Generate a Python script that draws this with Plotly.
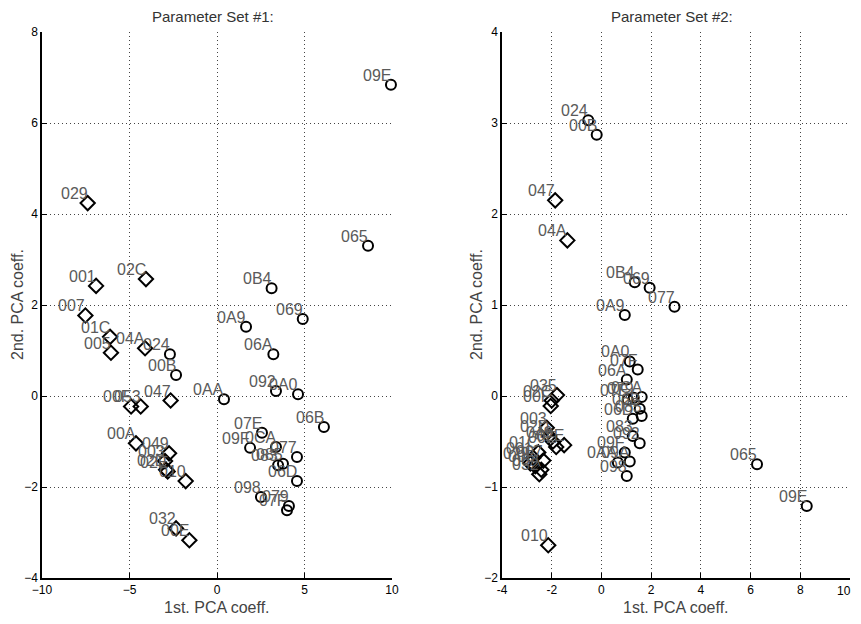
import plotly.graph_objects as go

# ---------------- Parameter Set #1 ----------------
p1_diamond_labels = ["029", "001", "02C", "007", "01C", "005", "04A", "047", "00F", "053",
                     "00A", "049", "003", "02D", "02E", "010", "032", "00E"]
p1_diamond_x = [-7.39, -6.91, -4.06, -7.52, -6.11, -6.06, -4.11, -2.65, -4.91, -4.36,
                -4.63, -2.74, -2.97, -2.91, -2.82, -1.79, -2.34, -1.58]
p1_diamond_y = [4.24, 2.42, 2.57, 1.77, 1.30, 0.95, 1.05, -0.10, -0.23, -0.23,
                -1.04, -1.26, -1.43, -1.62, -1.66, -1.87, -2.91, -3.17]

p1_circle_labels = ["09E", "065", "0B4", "069", "0A9", "06A", "024", "00B", "0AA", "092",
                    "0A0", "06B", "07E", "09F", "0CA", "077", "083", "085", "06D", "098",
                    "079", "07F"]
p1_circle_x = [9.94, 8.63, 3.12, 4.90, 1.66, 3.22, -2.69, -2.34, 0.40, 3.37,
               4.63, 6.11, 2.57, 1.89, 3.37, 4.57, 3.49, 3.77, 4.57, 2.51,
               4.11, 4.00]
p1_circle_y = [6.84, 3.30, 2.37, 1.69, 1.52, 0.92, 0.92, 0.46, -0.07, 0.11,
               0.04, -0.68, -0.81, -1.14, -1.12, -1.34, -1.52, -1.49, -1.87, -2.22,
               -2.42, -2.51]

# ---------------- Parameter Set #2 ----------------
p2_diamond_labels = ["047", "04A", "010", "035", "02C", "00F", "003", "02D", "049", "00E",
                     "02E", "01C", "001", "007", "005", "00A", "032", "029"]
p2_diamond_x = [-1.86, -1.37, -2.14, -1.79, -2.00, -2.04, -2.20, -2.10, -1.95, -1.82,
                -1.50, -2.54, -2.74, -2.34, -2.66, -2.42, -2.50, -2.86]
p2_diamond_y = [2.15, 1.71, -1.64, 0.01, -0.05, -0.11, -0.35, -0.44, -0.50, -0.56,
                -0.54, -0.62, -0.68, -0.71, -0.77, -0.81, -0.86, -0.74]

p2_circle_labels = ["024", "00B", "0B4", "069", "077", "0A9", "065", "09E", "0A0", "07F",
                    "06A", "07E", "079", "0CA", "06B", "085", "06D", "083", "092", "09F",
                    "0AA", "09A", "098"]
p2_circle_x = [-0.53, -0.19, 1.34, 1.94, 2.94, 0.94, 6.26, 8.26, 1.14, 1.46,
               1.02, 1.06, 1.30, 1.62, 1.54, 1.62, 1.26, 1.26, 1.54, 0.94,
               0.66, 1.14, 1.02]
p2_circle_y = [3.03, 2.87, 1.25, 1.19, 0.98, 0.89, -0.75, -1.21, 0.38, 0.29,
               0.18, -0.04, -0.02, -0.01, -0.14, -0.22, -0.25, -0.44, -0.52, -0.62,
               -0.73, -0.72, -0.88]

p1_xticks = [-10, -5, 0, 5, 10]
p1_yticks = [-4, -2, 0, 2, 4, 6, 8]
p2_xticks = [-4, -2, 0, 2, 4, 6, 8, 10]
p2_yticks = [-2, -1, 0, 1, 2, 3, 4]

titles = ["Parameter Set #1:", "Parameter Set #2:"]
x_title = "1st. PCA coeff."
y_title = "2nd. PCA coeff."

FONT = "Arial, Liberation Sans, Helvetica, sans-serif"
LABEL_COLOR = "#5a5a5a"

# The page body has an 8px margin, so the figure is drawn offset by 8px.
OFF = 8
W, H = 861 - 2 * OFF, 624 - 2 * OFF


def px_x(px):
    return (px - OFF) / W


def px_y(py):
    return (H - (py - OFF)) / H


left_dom = [px_x(42), px_x(392)]
right_dom = [px_x(502), px_x(850)]
y_dom = [px_y(578), px_y(32)]

fig = go.Figure()

panels = [
    dict(xa="x", ya="y", dx=p1_diamond_x, dy=p1_diamond_y, dl=p1_diamond_labels,
         cx=p1_circle_x, cy=p1_circle_y, cl=p1_circle_labels),
    dict(xa="x2", ya="y2", dx=p2_diamond_x, dy=p2_diamond_y, dl=p2_diamond_labels,
         cx=p2_circle_x, cy=p2_circle_y, cl=p2_circle_labels),
]

annotations = []
for p in panels:
    fig.add_trace(go.Scatter(x=p["dx"], y=p["dy"], mode="markers", xaxis=p["xa"], yaxis=p["ya"],
                             cliponaxis=False,
                             marker=dict(symbol="diamond-open", size=11, color="black",
                                         line=dict(width=2, color="black")),
                             showlegend=False, hoverinfo="skip"))
    fig.add_trace(go.Scatter(x=p["cx"], y=p["cy"], mode="markers", xaxis=p["xa"], yaxis=p["ya"],
                             cliponaxis=False,
                             marker=dict(symbol="circle-open", size=10, color="black",
                                         line=dict(width=2, color="black")),
                             showlegend=False, hoverinfo="skip"))
    for xs, ys, ls in ((p["dx"], p["dy"], p["dl"]), (p["cx"], p["cy"], p["cl"])):
        for xv, yv, lab in zip(xs, ys, ls):
            annotations.append(dict(x=xv, y=yv, xref=p["xa"], yref=p["ya"], text=lab,
                                    showarrow=False, xanchor="right", yanchor="bottom",
                                    xshift=2, yshift=-1,
                                    font=dict(family=FONT, size=16, color=LABEL_COLOR)))

for dom, t, ytx in zip((left_dom, right_dom), titles, (17, 476)):
    cx = (dom[0] + dom[1]) / 2
    annotations.append(dict(x=cx - 4 / W, y=px_y(16), xref="paper", yref="paper", text=t,
                            showarrow=False, xanchor="center", yanchor="middle",
                            font=dict(family=FONT, size=15, color="#333333")))
    annotations.append(dict(x=cx, y=px_y(607), xref="paper", yref="paper", text=x_title,
                            showarrow=False, xanchor="center", yanchor="middle",
                            font=dict(family=FONT, size=16, color="#444444")))
    annotations.append(dict(x=px_x(ytx), y=(y_dom[0] + y_dom[1]) / 2, xref="paper",
                            yref="paper", text=y_title, textangle=-90,
                            showarrow=False, xanchor="center", yanchor="middle",
                            font=dict(family=FONT, size=16, color="#444444")))

# last tick label of the right panel sits at the page edge: draw it right-aligned
p2_xticktext = [str(v) for v in p2_xticks]
last_label = p2_xticktext[-1]
p2_xticktext[-1] = ""
annotations.append(dict(x=1, y=px_y(591), xref="paper", yref="paper", text=last_label,
                        showarrow=False, xanchor="right", yanchor="middle",
                        font=dict(family=FONT, size=12, color="black")))

axis_common = dict(showgrid=True, gridcolor="#444444", griddash="1px,3px", gridwidth=1,
                   zeroline=False, showline=True, linecolor="black", linewidth=1.5,
                   ticks="inside", ticklen=5, tickcolor="black", automargin=False,
                   tickfont=dict(family=FONT, size=12, color="black"), fixedrange=True)

fig.update_layout(
    width=W, height=H,
    margin=dict(l=0, r=0, t=0, b=0),
    paper_bgcolor="white", plot_bgcolor="white",
    xaxis=dict(domain=left_dom, range=[-10, 10], tickvals=p1_xticks,
               anchor="y", **axis_common),
    yaxis=dict(domain=y_dom, range=[-4, 8], tickvals=p1_yticks,
               anchor="x", **axis_common),
    xaxis2=dict(domain=right_dom, range=[-4, 10], tickvals=p2_xticks, ticktext=p2_xticktext,
                anchor="y2", **axis_common),
    yaxis2=dict(domain=y_dom, range=[-2, 4], tickvals=p2_yticks,
                anchor="x2", **axis_common),
    annotations=annotations,
)

fig.write_html("out.html")
